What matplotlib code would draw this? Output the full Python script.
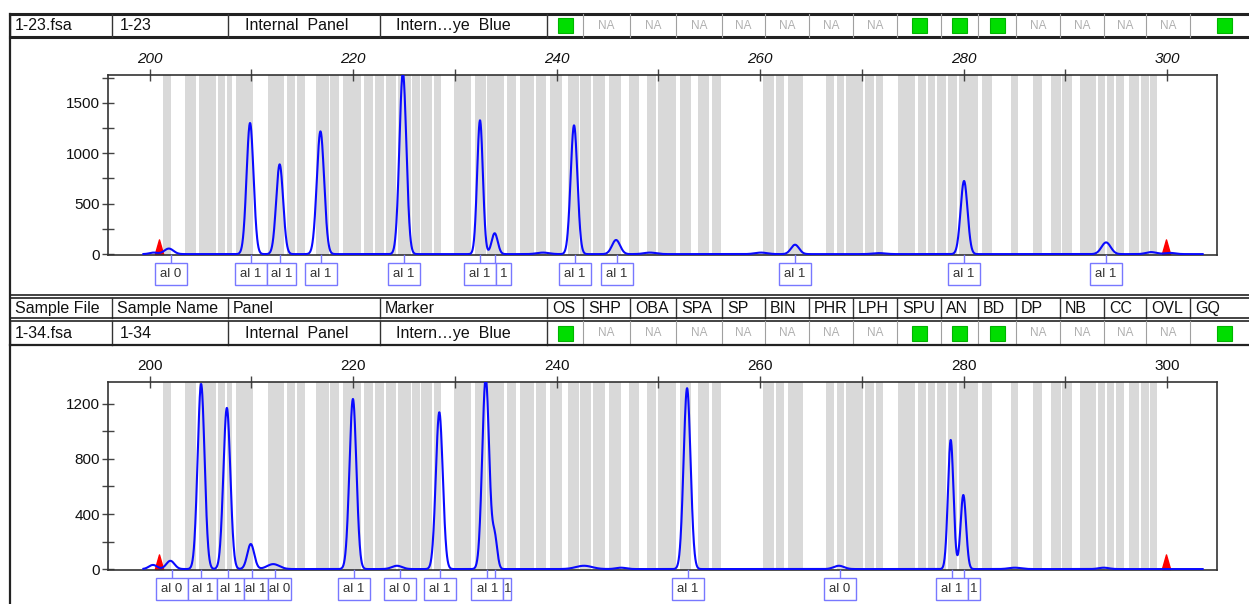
import numpy as np
import matplotlib
matplotlib.use("Agg")
import matplotlib.pyplot as plt
from matplotlib.lines import Line2D
from matplotlib.patches import Rectangle
from matplotlib.ticker import MultipleLocator
from matplotlib.transforms import blended_transform_factory

plt.rcParams['font.family'] = ['Liberation Sans', 'DejaVu Sans']

# bins of the marker (bp), shared by both samples
bin_lo = [201.28, 203.49, 204.86, 206.73, 207.62, 208.5, 211.65, 213.5, 214.5, 216.4,
          217.7, 219.0, 221.1, 222.2, 223.2, 224.4, 225.8, 226.7, 228.0, 229.9,
          232.0, 233.2, 235.1, 236.4, 238.0, 239.4, 241.1, 242.3, 243.6, 245.2,
          247.1, 248.9, 250.0, 252.1, 253.9, 255.3, 260.3, 261.6, 262.7, 266.5,
          267.6, 268.4, 270.3, 271.4, 273.6, 275.5, 276.5, 277.4, 278.5, 279.6,
          281.8, 284.7, 286.8, 288.6, 289.7, 291.4, 293.2, 294.1, 295.0, 296.3,
          297.4, 298.3]
bin_hi = [202.15, 204.57, 206.54, 207.42, 208.11, 210.2, 213.2, 214.3, 215.3, 217.6,
          218.6, 220.8, 222.0, 223.0, 224.2, 225.7, 226.6, 227.8, 228.6, 231.6,
          233.1, 234.8, 236.0, 237.8, 239.0, 240.5, 242.2, 243.4, 244.8, 246.3,
          248.1, 249.8, 251.7, 253.2, 255.0, 256.2, 261.4, 262.4, 264.2, 267.3,
          268.3, 270.1, 271.2, 272.1, 275.2, 276.3, 277.2, 278.3, 279.4, 281.4,
          282.8, 285.4, 287.7, 289.6, 290.7, 293.0, 293.9, 294.8, 295.8, 297.2,
          298.2, 299.0]

# sample 1-23
top_peak_bp = [200.4, 201.9, 209.88, 212.79, 216.80, 224.90, 232.48, 233.92, 238.67,
               241.72, 245.85, 249.19, 260.10, 263.44, 271.70, 280.05, 294.01, 298.43, 300.3]
top_peak_rfu = [15, 55, 1300, 890, 1217, 1800, 1327, 207, 15,
                1277, 140, 15, 15, 93, 10, 725, 116, 20, 12]
top_peak_sd = [0.4, 0.45, 0.34, 0.34, 0.36, 0.34, 0.28, 0.3, 0.6,
               0.33, 0.4, 0.6, 0.6, 0.4, 0.6, 0.34, 0.45, 0.5, 0.5]
top_label_bp = [202.1, 209.95, 212.8, 216.85, 225.0, 232.48, 233.95, 241.8, 245.95,
                263.44, 280.05, 294.0]
top_label_text = ["al 0", "al 1", "al 1", "al 1", "al 1", "al 1", "al 1", "al 1", "al 1",
                  "al 1", "al 1", "al 1"]

# sample 1-34
bot_peak_bp = [200.34, 202.05, 205.07, 207.60, 209.95, 212.16, 219.99, 224.32, 228.48,
               233.04, 233.92, 242.70, 246.34, 252.83, 267.75, 278.74, 279.98, 285.04, 293.78]
bot_peak_rfu = [30, 60, 1345, 1171, 182, 36, 1236, 24, 1139,
                1390, 230, 24, 10, 1314, 24, 938, 538, 10, 10]
bot_peak_sd = [0.4, 0.4, 0.34, 0.34, 0.34, 0.6, 0.34, 0.5, 0.34,
               0.34, 0.25, 0.8, 0.5, 0.34, 0.5, 0.27, 0.27, 0.6, 0.5]
bot_label_bp = [202.2, 205.1, 207.7, 210.1, 212.3, 220.05, 224.6, 228.5, 233.2, 234.0,
                252.9, 267.85, 278.85, 280.05]
bot_label_text = ["al 0", "al 1", "al 1", "al 1", "al 0", "al 1", "al 0", "al 1", "al 1", "al 1",
                  "al 1", "al 0", "al 1", "al 1"]

ladder_bp = [200.9, 299.9]

columns = ["Sample File", "Sample Name", "Panel", "Marker", "OS", "SHP", "OBA", "SPA", "SP",
           "BIN", "PHR", "LPH", "SPU", "AN", "BD", "DP", "NB", "CC", "OVL", "GQ"]
flags_pass = ["OS", "SPU", "AN", "BD", "GQ"]
sample_23 = ["1-23.fsa", "1-23", "Internal  Panel", "Intern\u2026ye  Blue"]
sample_34 = ["1-34.fsa", "1-34", "Internal  Panel", "Intern\u2026ye  Blue"]

W, H = 1249, 604
fig = plt.figure(figsize=(W / 100, H / 100), dpi=100)
fig.patch.set_facecolor("white")

col_edges = [10, 112, 228, 380, 547, 583, 630, 676, 722, 765, 809, 853, 897, 941, 978,
             1016, 1060, 1104, 1146, 1190, 1258]
PX_PER_BP = 10.175


def fx(x):
    return x / W


def fy(y):
    return 1 - y / H


def line(x0, y0, x1, y1, lw=1.0, color="#222"):
    fig.add_artist(Line2D([fx(x0), fx(x1)], [fy(y0), fy(y1)], lw=lw, color=color,
                          transform=fig.transFigure))


def data_row(y0, y1, sample):
    yc = (y0 + y1) / 2 + 0.5
    for x, s in zip([15, 120, 245, 396], sample):
        fig.text(fx(x), fy(yc), s, fontsize=11.5, va="center", ha="left", color="#111")
    for i, name in enumerate(columns[4:]):
        xc = (col_edges[4 + i] + col_edges[5 + i]) / 2
        if name in flags_pass:
            fig.add_artist(Rectangle((fx(xc - 7.5), fy(yc + 7.5)), 15 / W, 15 / H,
                                     facecolor="#00dd00", edgecolor="#00b400", lw=0.8,
                                     transform=fig.transFigure))
        else:
            fig.text(fx(xc), fy(yc), "NA", fontsize=8.5, color="#b0b0b0",
                     ha="center", va="center")
    for x in col_edges[:5]:
        line(x, y0, x, y1, lw=1.0, color="#333")
    for x in col_edges[5:-1]:
        line(x, y0, x, y1, lw=0.8, color="#a0a0a0")


# header rows
line(10, 14, W, 14, lw=2.2)
line(10, 36.5, W, 36.5, lw=2.2)
data_row(14, 36.5, sample_23)

line(10, 295, W, 295, lw=1.2)
line(10, 298, W, 298, lw=1.2)
for i, name in enumerate(columns):
    fig.text(fx(col_edges[i] + 5), fy(308.5), name, fontsize=11.5, va="center", ha="left",
             color="#111")
    if i > 0:
        line(col_edges[i], 298, col_edges[i], 318, lw=1.0, color="#333")
line(10, 318, W, 318, lw=1.2)
line(10, 321, W, 321, lw=1.2)
data_row(321, 344.5, sample_34)
line(10, 344.5, W, 344.5, lw=1.6)

line(10, 14, 10, H, lw=1.6)


def draw_trace(top, bottom, ymax, ystep, peak_bp, peak_rfu, peak_sd, lbl_bp, lbl_text,
               italic):
    ax = fig.add_axes([fx(108), fy(bottom), (1217 - 108) / W, (bottom - top) / H])
    ax.set_xlim(195.92, 304.91)
    ax.set_ylim(-ymax * 0.005, ymax)
    for lo, hi in zip(bin_lo, bin_hi):
        ax.axvspan(lo, hi, color="#d9d9d9", lw=0, zorder=0)

    bp = np.linspace(199.4, 303.5, 5000)
    rfu = np.zeros_like(bp)
    for c, h, s in zip(peak_bp, peak_rfu, peak_sd):
        rfu += h * np.exp(-0.5 * ((bp - c) / s) ** 2)
    ax.plot(bp, rfu, color="#0a0aff", lw=1.5, zorder=3)

    tri = [(-1, 0), (1, 0), (0, 3.5), (-1, 0)]
    ax.plot(ladder_bp, [0] * len(ladder_bp), linestyle="none", marker=tri, markersize=21,
            color="#ff0000", zorder=2, clip_on=False)

    for sp in ax.spines.values():
        sp.set_color("#333")
        sp.set_linewidth(1.2)

    ticks = np.arange(200, 301, 20)
    ax.xaxis.set_ticks_position("top")
    ax.set_xticks(ticks)
    ax.set_xticklabels([str(t) for t in ticks], fontstyle="italic" if italic else "normal")
    ax.xaxis.set_minor_locator(MultipleLocator(10))
    ax.tick_params(axis="x", which="both", direction="inout", length=9, width=1,
                   colors="#444", labelcolor="#111", labelsize=11, pad=2)
    ax.yaxis.set_major_locator(MultipleLocator(ystep))
    ax.yaxis.set_minor_locator(MultipleLocator(ystep / 2))
    ax.tick_params(axis="y", which="both", direction="inout", length=9, width=1,
                   colors="#444", labelcolor="#111", labelsize=11, pad=1.5)

    # allele label boxes under the peaks; a box that would overlap its left
    # neighbour starts where that one ends and is narrowed
    trans = blended_transform_factory(ax.transData, ax.transAxes)
    ax_h = bottom - top
    bw = 32 / PX_PER_BP
    edge = "#7878ff"
    prev_right = -1e9
    for x, t in zip(lbl_bp, lbl_text):
        left = max(x - bw / 2, prev_right)
        right = x + bw / 2
        prev_right = right
        if (right - left) * PX_PER_BP < 21:
            t = t.split()[-1]
        ax.add_line(Line2D([x, x], [0, -8 / ax_h], transform=trans, color=edge, lw=1,
                           clip_on=False, zorder=5))
        ax.add_patch(Rectangle((left, -30 / ax_h), right - left, 22 / ax_h, transform=trans,
                               facecolor="white", edgecolor=edge, lw=1, clip_on=False,
                               zorder=6))
        ax.text((left + right) / 2, -19 / ax_h, t, transform=trans, ha="center",
                va="center", fontsize=9.5, color="#333", zorder=7, clip_on=False)
    return ax


draw_trace(75, 255, 1776, 500, top_peak_bp, top_peak_rfu, top_peak_sd,
           top_label_bp, top_label_text, True)
draw_trace(382, 570, 1359, 400, bot_peak_bp, bot_peak_rfu, bot_peak_sd,
           bot_label_bp, bot_label_text, False)

fig.savefig("out.png", dpi=100, facecolor="white")
